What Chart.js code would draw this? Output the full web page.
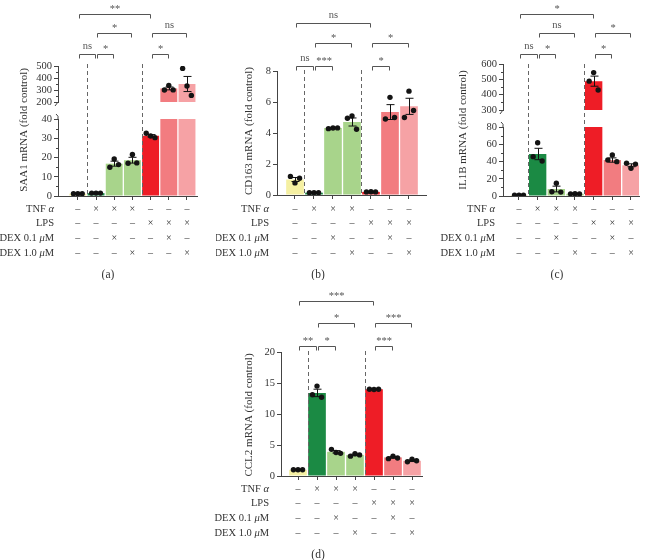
<!DOCTYPE html>
<html>
<head>
<meta charset="utf-8">
<script src="https://cdn.jsdelivr.net/npm/chart.js@4.4.1/dist/chart.umd.min.js"></script>
<style>
  body { margin: 0; background: #fff; width: 648px; height: 560px; position: relative; overflow: hidden; }
</style>
</head>
<body>
<script>
// treatment groups, left to right
const GROUPS = ['Control', 'TNFα', 'TNFα + DEX 0.1', 'TNFα + DEX 1.0', 'LPS', 'LPS + DEX 0.1', 'LPS + DEX 1.0'];
const BAR_COLORS = ['#f5f0a2', '#1b8a44', '#a8d48b', '#a8d48b', '#ee1d26', '#f27c80', '#f6a2a5'];

// condition table under each panel (1 = ×, 0 = –)
const ROW_LABELS = [['TNF ', 'α'], ['LPS'], ['DEX 0.1 ', 'μ', 'M'], ['DEX 1.0 ', 'μ', 'M']];
const TNF_ROW = [0, 1, 1, 1, 0, 0, 0];
const LPS_ROW = [0, 0, 0, 0, 1, 1, 1];
const DEX01_ROW = [0, 0, 1, 0, 0, 1, 0];
const DEX10_ROW = [0, 0, 0, 1, 0, 0, 1];

// (a) SAA1
const SAA1_MEAN = [1.2, 1.5, 16.8, 18.6, 31.3, 313, 350];
const SAA1_SEM = [0.1, 0.1, 1.3, 1.5, 0.6, 12, 63];
const SAA1_DOTS = [[1.2, 1.2, 1.2], [1.5, 1.5, 1.5], [14.9, 19.2, 16.3], [17.0, 21.6, 17.2], [32.6, 31.2, 30.3], [300, 338, 301], [480, 333, 255]];
const SAA1_SIG = [[0, 4, 0, '**'], [1, 3, 1, '*'], [4, 6, 1, 'ns'], [0, 1, 2, 'ns'], [1, 2, 2, '*'], [4, 5, 2, '*']];

// (b) CD163
const CD163_MEAN = [1.0, 0.15, 4.32, 4.71, 0.2, 5.35, 5.72];
const CD163_SEM = [0.13, 0.02, 0.03, 0.26, 0.02, 0.48, 0.52];
const CD163_DOTS = [[1.2, 0.78, 1.08], [0.15, 0.15, 0.15], [4.28, 4.32, 4.33], [4.95, 5.1, 4.24], [0.2, 0.21, 0.2], [4.9, 6.3, 5.0], [5.0, 6.7, 5.45]];
const CD163_SIG = [[0, 4, 0, 'ns'], [1, 3, 1, '*'], [4, 6, 1, '*'], [0, 1, 2, 'ns'], [1, 2, 2, '***'], [4, 5, 2, '*']];

// (c) IL1B
const IL1B_MEAN = [1.0, 48.7, 8.1, 2.5, 488, 41.7, 35.6];
const IL1B_SEM = [0.1, 6.6, 3.3, 0.2, 33, 2.5, 1.7];
const IL1B_DOTS = [[1.0, 1.0, 1.0], [45.6, 61.8, 40.6], [5.0, 14.7, 4.5], [2.5, 2.6, 2.4], [488, 544, 430], [41.7, 47.5, 39.8], [37.9, 32.1, 37.0]];
const IL1B_SIG = [[0, 4, 0, '*'], [1, 3, 1, 'ns'], [4, 6, 1, '*'], [0, 1, 2, 'ns'], [1, 2, 2, '*'], [4, 5, 2, '*']];

// (d) CCL2
const CCL2_MEAN = [1.0, 13.4, 3.9, 3.4, 14.0, 3.0, 2.45];
const CCL2_SEM = [0.05, 0.6, 0.2, 0.12, 0.03, 0.12, 0.12];
const CCL2_DOTS = [[1.0, 1.0, 1.0], [13.1, 14.5, 12.7], [4.3, 3.8, 3.65], [3.2, 3.6, 3.4], [14.0, 13.95, 14.0], [2.8, 3.2, 2.9], [2.3, 2.7, 2.45]];
const CCL2_SIG = [[0, 4, 0, '***'], [1, 3, 1, '*'], [4, 6, 1, '***'], [0, 1, 2, '**'], [1, 2, 2, '*'], [4, 5, 2, '***']];

const JITTER = [-0.24, 0, 0.24];

Chart.defaults.font.family = '"Liberation Serif", "Times New Roman", serif';
Chart.defaults.color = '#333';
const SERIF = Chart.defaults.font.family;
const AXIS = '#444';
const H = 280;
const ROW_Y = [209, 223.5, 238.5, 253.5];

// layout of the four panels (page pixels)
const PANELS = [
  { id: 'a', left: 0, top: 0, w: 216, axisX: 58, axisEnd: 197, xMin: -1.09, xMax: 6.55,
    title: 'SAA1 mRNA (fold control)', titleX: 24, titleY: 130, rowRight: 54, captionX: 108,
    bracketY: [14, 33, 54], dashTop: 64,
    segs: [{ top: 119, bottom: 196, min: 0, max: 40, step: 10, minor: 5 },
           { top: 66, bottom: 106, min: 200, max: 500, step: 100, minor: 50 }],
    mean: SAA1_MEAN, sem: SAA1_SEM, dots: SAA1_DOTS, sig: SAA1_SIG },
  { id: 'b', left: 216, top: 0, w: 216, axisX: 61, axisEnd: 210, xMin: -0.947, xMax: 6.895,
    title: 'CD163 mRNA (fold control)', titleX: 33, titleY: 131, rowRight: 53, captionX: 102,
    bracketY: [23, 43, 66], dashTop: 70,
    segs: [{ top: 71, bottom: 195, min: 0, max: 8, step: 2 }],
    mean: CD163_MEAN, sem: CD163_SEM, dots: CD163_DOTS, sig: CD163_SIG },
  { id: 'c', left: 432, top: 0, w: 216, axisX: 71, axisEnd: 207, xMin: -0.857, xMax: 6.429,
    title: 'IL1B mRNA (fold control)', titleX: 31, titleY: 130, rowRight: 63, captionX: 125,
    bracketY: [14, 33, 54], dashTop: 64,
    segs: [{ top: 127, bottom: 196, min: 0, max: 80, step: 20, minor: 10 },
           { top: 64, bottom: 114, min: 300, max: 600, step: 100, minor: 50 }],
    mean: IL1B_MEAN, sem: IL1B_SEM, dots: IL1B_DOTS, sig: IL1B_SIG },
  { id: 'd', left: 200, top: 280, w: 240, axisX: 81, axisEnd: 222, xMin: -0.895, xMax: 6.526,
    title: 'CCL2 mRNA (fold control)', titleX: 49, titleY: 135, rowRight: 69, captionX: 118,
    bracketY: [21, 43, 66], dashTop: 71,
    segs: [{ top: 72, bottom: 196, min: 0, max: 20, step: 5 }],
    mean: CCL2_MEAN, sem: CCL2_SEM, dots: CCL2_DOTS, sig: CCL2_SIG }
];

function richText(ctx, parts, xRight, y) {
  // draws label right-aligned, odd parts in italic
  const fonts = parts.map((_, k) => (k % 2 ? 'italic ' : '') + '10.5px ' + SERIF);
  const widths = parts.map((t, k) => { ctx.font = fonts[k]; return ctx.measureText(t).width; });
  let x = xRight - widths.reduce((s, v) => s + v, 0);
  ctx.textAlign = 'left';
  parts.forEach((t, k) => { ctx.font = fonts[k]; ctx.fillText(t, x, y); x += widths[k]; });
}

function decor(p, seg, main, broken) {
  return {
    id: 'decor',
    afterDatasetsDraw(chart) {
      const ctx = chart.ctx, xs = chart.scales.x, ys = chart.scales.y, area = chart.chartArea;
      ctx.save();
      ctx.beginPath();
      ctx.rect(area.left, area.top - 1, area.right - area.left, area.bottom - area.top + 2);
      ctx.clip();
      ctx.strokeStyle = '#111';
      ctx.lineWidth = 1;
      p.mean.forEach((m, i) => {
        const x = Math.round(xs.getPixelForValue(i)) + 0.5;
        const y1 = ys.getPixelForValue(m + p.sem[i]);
        const y2 = ys.getPixelForValue(m - p.sem[i]);
        ctx.beginPath();
        ctx.moveTo(x, y1); ctx.lineTo(x, y2);
        ctx.moveTo(x - 4, y1); ctx.lineTo(x + 4, y1);
        ctx.moveTo(x - 4, y2); ctx.lineTo(x + 4, y2);
        ctx.stroke();
      });
      ctx.restore();
    },
    afterDraw(chart) {
      const ctx = chart.ctx, xs = chart.scales.x, ys = chart.scales.y, area = chart.chartArea;
      ctx.save();
      ctx.strokeStyle = AXIS;
      ctx.lineWidth = 1;

      // minor ticks
      if (seg.minor) {
        for (let v = seg.min; v <= seg.max; v += seg.minor) {
          if (v % seg.step === 0) continue;
          const y = Math.round(ys.getPixelForValue(v)) + 0.5;
          ctx.beginPath(); ctx.moveTo(area.left - 2, y); ctx.lineTo(area.left, y); ctx.stroke();
        }
      }

      // axis break marks
      if (broken) {
        const ax = area.left;
        ctx.beginPath();
        if (main) { ctx.moveTo(ax - 2, area.top - 5); ctx.quadraticCurveTo(ax + 1, area.top - 3, ax, area.top); }
        else { ctx.moveTo(ax, area.bottom); ctx.lineTo(ax - 3, area.bottom + 4); }
        ctx.stroke();
      }

      if (main) {
        // group separators
        ctx.setLineDash([4, 3]);
        ctx.strokeStyle = '#666';
        [0.5, 3.5].forEach(v => {
          const x = Math.round(xs.getPixelForValue(v)) + 0.5;
          ctx.beginPath(); ctx.moveTo(x, p.dashTop); ctx.lineTo(x, area.bottom); ctx.stroke();
        });
        ctx.setLineDash([]);

        // significance brackets
        ctx.strokeStyle = '#555';
        ctx.fillStyle = '#555';
        ctx.font = '10.5px ' + SERIF;
        ctx.textAlign = 'center';
        ctx.textBaseline = 'bottom';
        p.sig.forEach(([a, b, lvl, label]) => {
          const x1 = Math.round(xs.getPixelForValue(a)) + 1.5;
          const x2 = Math.round(xs.getPixelForValue(b)) - 0.5;
          const y = p.bracketY[lvl] + 0.5;
          ctx.beginPath();
          ctx.moveTo(x1, y + 4); ctx.lineTo(x1, y); ctx.lineTo(x2, y); ctx.lineTo(x2, y + 4);
          ctx.stroke();
          ctx.fillText(label, (x1 + x2) / 2, y - (label === 'ns' ? 3 : 0));
        });

        // condition table
        ctx.fillStyle = '#333';
        ctx.textBaseline = 'middle';
        [TNF_ROW, LPS_ROW, DEX01_ROW, DEX10_ROW].forEach((row, r) => {
          richText(ctx, ROW_LABELS[r], p.rowRight, ROW_Y[r]);
          ctx.font = '10px ' + SERIF;
          ctx.textAlign = 'center';
          row.forEach((f, i) => ctx.fillText(f ? '×' : '–', xs.getPixelForValue(i), ROW_Y[r]));
        });

        // caption
        ctx.font = '11.5px ' + SERIF;
        ctx.fillText('(' + p.id + ')', p.captionX, 275);

        // y-axis title
        ctx.translate(p.titleX, p.titleY);
        ctx.rotate(-Math.PI / 2);
        ctx.font = '11px ' + SERIF;
        ctx.fillText(p.title, 0, 0);
      }
      ctx.restore();
    }
  };
}

function buildSegment(p, seg, main, broken) {
  const c = document.createElement('canvas');
  c.width = p.w;
  c.height = H;
  c.style.cssText = `position:absolute;left:${p.left}px;top:${p.top}px;width:${p.w}px;height:${H}px`;
  document.body.appendChild(c);

  const dots = [];
  p.dots.forEach((arr, i) => arr.forEach((v, k) => dots.push({ x: i + JITTER[k], y: v })));

  return new Chart(c, {
    type: 'bar',
    data: {
      datasets: [
        { type: 'scatter', data: dots, pointRadius: 2.7, pointBackgroundColor: '#141414', pointBorderWidth: 0, order: 0 },
        { type: 'bar', data: p.mean.map((v, i) => ({ x: i, y: v })), backgroundColor: BAR_COLORS,
          borderWidth: 0, barPercentage: 0.93, categoryPercentage: 1, order: 1 }
      ]
    },
    options: {
      responsive: false,
      animation: false,
      events: [],
      devicePixelRatio: 1,
      layout: { padding: { left: 0, right: p.w - p.axisEnd, top: seg.top, bottom: H - seg.bottom - (main ? 4 : 0) } },
      plugins: { legend: { display: false }, tooltip: { enabled: false } },
      scales: {
        x: {
          type: 'linear', display: main, min: p.xMin, max: p.xMax, offset: false,
          afterBuildTicks: s => { s.ticks = GROUPS.map((g, i) => ({ value: i })); },
          afterFit: s => { s.height = 4; },
          ticks: { display: false },
          grid: { drawOnChartArea: false, offset: false, tickLength: 4, color: AXIS },
          border: { color: AXIS }
        },
        y: {
          min: seg.min, max: seg.max,
          afterFit: s => { s.width = p.axisX; },
          ticks: { stepSize: seg.step, autoSkip: false, padding: 2, font: { size: 10.5 }, color: '#333' },
          grid: { drawOnChartArea: false, tickLength: 4, color: AXIS },
          border: { color: AXIS }
        }
      }
    },
    plugins: [decor(p, seg, main, broken)]
  });
}

PANELS.forEach(p => {
  const broken = p.segs.length > 1;
  p.segs.forEach((seg, k) => buildSegment(p, seg, k === 0, broken));
});
</script>
</body>
</html>
